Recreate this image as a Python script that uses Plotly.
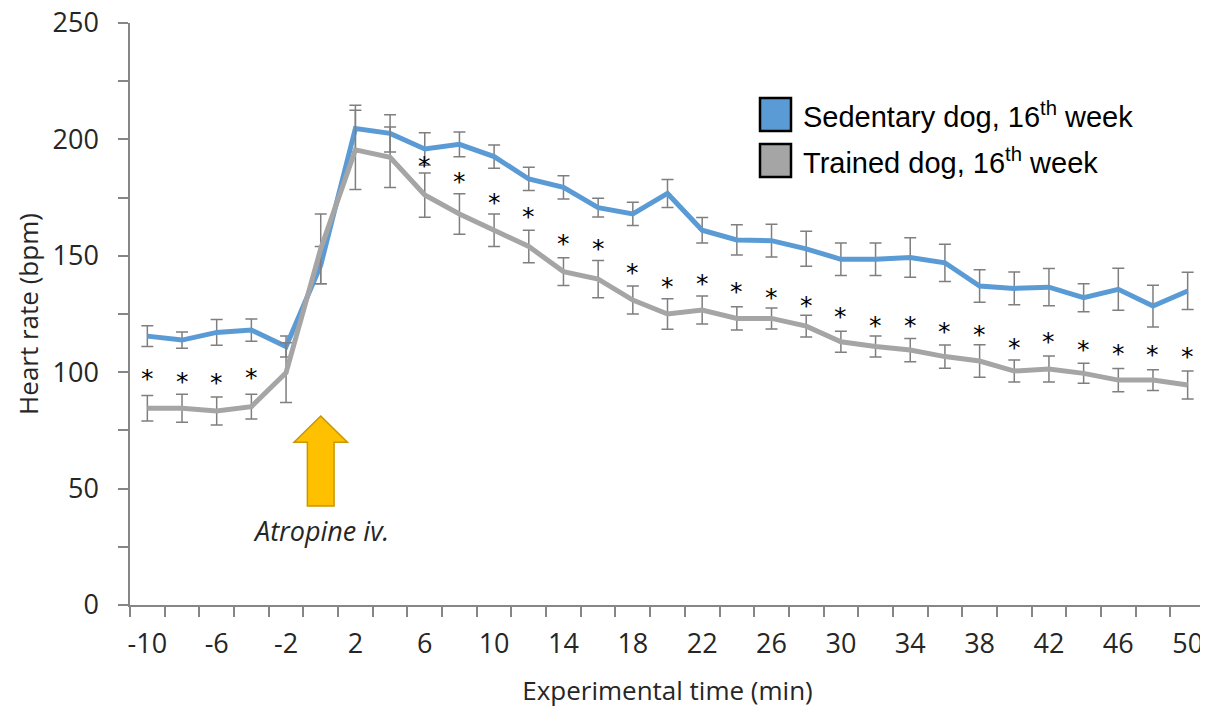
import plotly.graph_objects as go

# ---------------- data ----------------
times = [-10, -8, -6, -4, -2, 0, 2, 4, 6, 8, 10, 12, 14, 16, 18, 20, 22, 24, 26, 28,
         30, 32, 34, 36, 38, 40, 42, 44, 46, 48, 50]

sedentary = [115.5, 113.8, 117.1, 118.1, 111.0, 146.0, 204.7, 202.6, 195.9, 197.9,
             192.6, 183.0, 179.4, 170.7, 168.0, 176.8, 161.0, 156.8, 156.5, 153.0,
             148.5, 148.5, 149.3, 147.0, 137.0, 136.0, 136.5, 132.0, 135.6, 128.4, 134.9]
sedentary_err = [4.5, 3.5, 5.5, 4.8, 4.5, 8.0, 10.0, 8.0, 7.0, 5.3,
                 5.0, 5.0, 5.0, 4.0, 5.0, 6.0, 5.5, 6.5, 7.0, 7.5,
                 7.0, 7.0, 8.5, 8.0, 7.0, 7.0, 8.0, 6.0, 9.0, 9.0, 8.0]

trained = [84.5, 84.5, 83.3, 85.2, 99.8, 153.0, 195.5, 192.3, 176.1, 168.0,
           161.0, 154.0, 143.2, 140.0, 131.0, 125.0, 126.7, 123.1, 123.1, 119.8,
           113.1, 111.0, 109.5, 106.7, 104.8, 100.5, 101.4, 99.5, 96.6, 96.6, 94.5]
trained_err = [5.5, 6.0, 6.0, 5.3, 12.8, 15.0, 17.0, 13.0, 9.5, 8.7,
               7.0, 7.0, 6.0, 8.0, 6.0, 6.5, 6.0, 5.0, 4.5, 4.7,
               4.5, 4.5, 5.0, 5.0, 7.0, 4.7, 5.6, 4.3, 5.0, 4.5, 6.0]

sig_times = [-10, -8, -6, -4, 6, 8, 10, 12, 14, 16, 18, 20, 22, 24, 26, 28,
             30, 32, 34, 36, 38, 40, 42, 44, 46, 48, 50]
sig_y = [100.2, 98.8, 98.4, 100.9, 191.9, 185.1, 176.1, 170.0, 158.5, 156.1, 145.8,
         139.9, 141.0, 137.8, 135.3, 131.7, 127.0, 122.9, 122.9, 120.6, 119.3,
         113.5, 116.0, 112.8, 111.0, 110.7, 109.8]

x_tick_vals = [-10, -6, -2, 2, 6, 10, 14, 18, 22, 26, 30, 34, 38, 42, 46, 50]
x_tick_text = [str(v) for v in x_tick_vals]
x_boundaries = [-11, -9, -7, -5, -3, -1, 1, 3, 5, 7, 9, 11, 13, 15, 17, 19, 21, 23, 25,
                27, 29, 31, 33, 35, 37, 39, 41, 43, 45, 47, 49, 51]
y_tick_vals = [0, 50, 100, 150, 200, 250]

series_names = ["Sedentary dog, 16<sup>th</sup> week", "Trained dog, 16<sup>th</sup> week"]
BLUE = "#5B9BD5"
GREY = "#A5A5A5"
ERR = "#7F7F7F"
TEXT = "#262626"

# page has an 8px body margin; figure is sized so the plot area lands where the reference has it
OFF = 8
W, H = 1200, 700
ML, MR, MT, MB = 122, 3, 15, 103
PW, PH = W - ML - MR, H - MT - MB


def px(xp):
    return (xp - OFF - ML) / PW


def py(yp):
    return (H - MB - (yp - OFF)) / PH


fig = go.Figure()

fig.add_trace(go.Scatter(
    x=times, y=sedentary, mode="lines", name=series_names[0],
    line=dict(color=BLUE, width=5),
    error_y=dict(type="data", array=sedentary_err, visible=True,
                 color=ERR, thickness=1.5, width=6),
    showlegend=False))

fig.add_trace(go.Scatter(
    x=times, y=trained, mode="lines", name=series_names[1],
    line=dict(color=GREY, width=5),
    error_y=dict(type="data", array=trained_err, visible=True,
                 color=ERR, thickness=1.5, width=6),
    showlegend=False))

# significance asterisks
for t, v in zip(sig_times, sig_y):
    fig.add_annotation(x=t, y=v, text="*", showarrow=False,
                       font=dict(family="DejaVu Sans", size=25, color="#000000"),
                       yshift=-7)

# Atropine arrow (drawn around x = 0 in data units)
tip, base, bottom = 81.2, 69.9, 42.5
hw, sw = 1.54, 0.77
path = (f"M 0 {tip} L {hw} {base} L {sw} {base} L {sw} {bottom} "
        f"L {-sw} {bottom} L {-sw} {base} L {-hw} {base} Z")
fig.add_shape(type="path", path=path, xref="x", yref="y",
              fillcolor="#FFC000", line=dict(color="#C99700", width=1.5))
fig.add_annotation(x=0, y=31.8, text="<i>Atropine iv.</i>", showarrow=False,
                   font=dict(family="Open Sans", size=27, color=TEXT))

# legend (drawn manually)
legend_colors = [BLUE, GREY]
legend_rows = [(98, 131), (144, 177)]
for (y0, y1), col, name in zip(legend_rows, legend_colors, series_names):
    fig.add_shape(type="rect", xref="paper", yref="paper",
                  x0=px(760), x1=px(791), y0=py(y1), y1=py(y0),
                  fillcolor=col, line=dict(color="#000000", width=2.5))
    fig.add_annotation(xref="paper", yref="paper", x=px(801), y=py((y0 + y1) / 2),
                       xanchor="left", yanchor="middle", text=name, showarrow=False,
                       font=dict(family="Liberation Sans, Arial", size=29, color="#000000"))

axis_line = "#868686"
fig.update_xaxes(
    range=[-11, 51], showgrid=False, zeroline=False, automargin=False,
    showline=True, linecolor=axis_line, linewidth=1.5,
    tickmode="array", tickvals=x_tick_vals, ticktext=x_tick_text,
    ticks="", ticklabelstandoff=14, ticklabeloverflow="allow",
    tickfont=dict(family="Open Sans", size=27, color=TEXT),
    minor=dict(tickmode="array", tickvals=x_boundaries, ticks="outside",
               ticklen=10, tickwidth=1.5, tickcolor=axis_line, showgrid=False),
    title=dict(text="Experimental time (min)", standoff=22,
               font=dict(family="Open Sans", size=26, color=TEXT)),
)
fig.update_yaxes(
    range=[0, 250], showgrid=False, zeroline=False, automargin=False,
    showline=True, linecolor=axis_line, linewidth=1.5,
    tickmode="array", tickvals=y_tick_vals,
    ticks="outside", ticklen=10, tickwidth=1.5, tickcolor=axis_line,
    ticklabelstandoff=14, ticklabeloverflow="allow",
    tickfont=dict(family="Open Sans", size=27, color=TEXT),
    minor=dict(dtick=25, ticks="outside", ticklen=10, tickwidth=1.5,
               tickcolor=axis_line, showgrid=False),
    title=dict(text="Heart rate (bpm)", standoff=6,
               font=dict(family="Open Sans", size=26, color=TEXT)),
)

fig.update_layout(
    width=W, height=H,
    margin=dict(l=ML, r=MR, t=MT, b=MB),
    paper_bgcolor="white", plot_bgcolor="white",
    showlegend=False,
)

fig.write_html("out.html")
